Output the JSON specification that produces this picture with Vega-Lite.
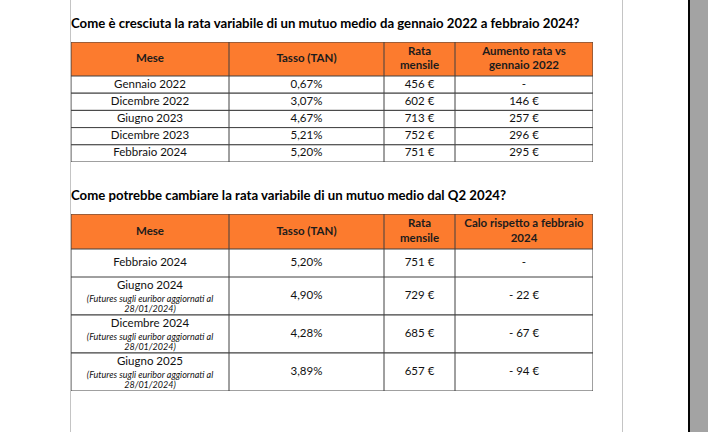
{
  "$schema": "https://vega.github.io/schema/vega-lite/v6.json",
  "padding": 0,
  "spacing": 0,
  "datasets": {
    "t1h": [{"a": "Mese", "b": "Tasso (TAN)", "c": "Rata\nmensile", "d": "Aumento rata vs\ngennaio 2022"}],
    "t1": [
      {"r": 1, "mese": "Gennaio 2022", "tasso": 0.0067, "rata": 456, "aumento": null},
      {"r": 2, "mese": "Dicembre 2022", "tasso": 0.0307, "rata": 602, "aumento": 146},
      {"r": 3, "mese": "Giugno 2023", "tasso": 0.0467, "rata": 713, "aumento": 257},
      {"r": 4, "mese": "Dicembre 2023", "tasso": 0.0521, "rata": 752, "aumento": 296},
      {"r": 5, "mese": "Febbraio 2024", "tasso": 0.052, "rata": 751, "aumento": 295}
    ],
    "t2h": [{"a": "Mese", "b": "Tasso (TAN)", "c": "Rata\nmensile", "d": "Calo rispetto a febbraio\n2024"}],
    "t2": [
      {"r": 1, "mese": "Febbraio 2024", "nota": "", "tasso": 0.052, "rata": 751, "calo": null},
      {"r": 2, "mese": "Giugno 2024", "nota": "(Futures sugli euribor aggiornati al\n28/01/2024)", "tasso": 0.049, "rata": 729, "calo": -22},
      {"r": 3, "mese": "Dicembre 2024", "nota": "(Futures sugli euribor aggiornati al\n28/01/2024)", "tasso": 0.0428, "rata": 685, "calo": -67},
      {"r": 4, "mese": "Giugno 2025", "nota": "(Futures sugli euribor aggiornati al\n28/01/2024)", "tasso": 0.0389, "rata": 657, "calo": -94}
    ]
  },
  "hconcat": [
    {"width": 70, "height": 432, "data": {"values": []}, "mark": "rect"},
    {"width": 1, "height": 432, "data": {"values": []}, "mark": "rect", "view": {"fill": "#c4c4c4", "stroke": null}},
    {
      "spacing": 0,
      "vconcat": [
        {"width": 522, "height": 16, "data": {"values": []}, "mark": "rect"},
        {
          "title": {"text": "Come è cresciuta la rata variabile di un mutuo medio da gennaio 2022 a febbraio 2024?", "offset": 11},
          "spacing": 0,
          "vconcat": [
            {
              "spacing": 0,
              "hconcat": [
                {"width": 158, "height": 34, "data": {"name": "t1h"}, "layer": [
                  {"mark": {"type": "rect", "fill": "#fc7b2e", "clip": true}, "encoding": {"x": {"value": 0}, "x2": {"value": "width"}, "y": {"value": 0}, "y2": {"value": "height"}}},
                  {"mark": {"type": "text", "fontWeight": "bold", "fontSize": 11.5, "lineHeight": 14.5, "color": "#1c1c1c"}, "encoding": {"text": {"field": "a"}}}
                ]},
                {"width": 155, "height": 34, "data": {"name": "t1h"}, "layer": [
                  {"mark": {"type": "rect", "fill": "#fc7b2e", "clip": true}, "encoding": {"x": {"value": 0}, "x2": {"value": "width"}, "y": {"value": 0}, "y2": {"value": "height"}}},
                  {"mark": {"type": "text", "fontWeight": "bold", "fontSize": 11.5, "lineHeight": 14.5, "color": "#1c1c1c"}, "encoding": {"text": {"field": "b"}}}
                ]},
                {"width": 71, "height": 34, "data": {"name": "t1h"}, "layer": [
                  {"mark": {"type": "rect", "fill": "#fc7b2e", "clip": true}, "encoding": {"x": {"value": 0}, "x2": {"value": "width"}, "y": {"value": 0}, "y2": {"value": "height"}}},
                  {"mark": {"type": "text", "fontWeight": "bold", "fontSize": 11.5, "lineHeight": 14.5, "dy": -7.25, "color": "#1c1c1c"}, "encoding": {"text": {"field": "c"}}}
                ]},
                {"width": 138, "height": 34, "data": {"name": "t1h"}, "layer": [
                  {"mark": {"type": "rect", "fill": "#fc7b2e", "clip": true}, "encoding": {"x": {"value": 0}, "x2": {"value": "width"}, "y": {"value": 0}, "y2": {"value": "height"}}},
                  {"mark": {"type": "text", "fontWeight": "bold", "fontSize": 11.5, "lineHeight": 14.5, "dy": -7.25, "color": "#1c1c1c"}, "encoding": {"text": {"field": "d"}}}
                ]}
              ]
            },
            {
              "spacing": 0,
              "hconcat": [
                {"width": 158, "height": 86, "data": {"name": "t1"},
                 "encoding": {"y": {"field": "r", "type": "ordinal", "axis": null, "scale": {"type": "band", "paddingInner": 0, "paddingOuter": 0}}},
                 "layer": [
                  {"mark": {"type": "rect", "fill": "white", "clip": true}, "encoding": {"x": {"value": 0}, "x2": {"value": "width"}}},
                  {"mark": {"type": "text"}, "encoding": {"text": {"field": "mese"}}}
                ]},
                {"width": 155, "height": 86, "data": {"name": "t1"},
                 "encoding": {"y": {"field": "r", "type": "ordinal", "axis": null, "scale": {"type": "band", "paddingInner": 0, "paddingOuter": 0}}},
                 "layer": [
                  {"mark": {"type": "rect", "fill": "white", "clip": true}, "encoding": {"x": {"value": 0}, "x2": {"value": "width"}}},
                  {"mark": {"type": "text"}, "encoding": {"text": {"field": "tasso", "type": "quantitative", "format": ".2%"}}}
                ]},
                {"width": 71, "height": 86, "data": {"name": "t1"},
                 "encoding": {"y": {"field": "r", "type": "ordinal", "axis": null, "scale": {"type": "band", "paddingInner": 0, "paddingOuter": 0}}},
                 "layer": [
                  {"mark": {"type": "rect", "fill": "white", "clip": true}, "encoding": {"x": {"value": 0}, "x2": {"value": "width"}}},
                  {"mark": {"type": "text"}, "encoding": {"text": {"field": "rata", "type": "quantitative", "format": "$d"}}}
                ]},
                {"width": 138, "height": 86, "data": {"name": "t1"},
                 "encoding": {"y": {"field": "r", "type": "ordinal", "axis": null, "scale": {"type": "band", "paddingInner": 0, "paddingOuter": 0}}},
                 "layer": [
                  {"mark": {"type": "rect", "fill": "white", "clip": true}, "encoding": {"x": {"value": 0}, "x2": {"value": "width"}}},
                  {"mark": {"type": "text"}, "encoding": {"text": {"condition": {"test": "datum.aumento === null", "value": "-"}, "field": "aumento", "type": "quantitative", "format": "$d"}}}
                ]}
              ]
            }
          ]
        },
        {"width": 522, "height": 26, "data": {"values": []}, "mark": "rect"},
        {
          "title": {"text": "Come potrebbe cambiare la rata variabile di un mutuo medio dal Q2 2024?", "offset": 11},
          "spacing": 0,
          "vconcat": [
            {
              "spacing": 0,
              "hconcat": [
                {"width": 158, "height": 35, "data": {"name": "t2h"}, "layer": [
                  {"mark": {"type": "rect", "fill": "#fc7b2e", "clip": true}, "encoding": {"x": {"value": 0}, "x2": {"value": "width"}, "y": {"value": 0}, "y2": {"value": "height"}}},
                  {"mark": {"type": "text", "fontWeight": "bold", "fontSize": 11.5, "lineHeight": 15, "color": "#1c1c1c"}, "encoding": {"text": {"field": "a"}}}
                ]},
                {"width": 155, "height": 35, "data": {"name": "t2h"}, "layer": [
                  {"mark": {"type": "rect", "fill": "#fc7b2e", "clip": true}, "encoding": {"x": {"value": 0}, "x2": {"value": "width"}, "y": {"value": 0}, "y2": {"value": "height"}}},
                  {"mark": {"type": "text", "fontWeight": "bold", "fontSize": 11.5, "lineHeight": 15, "color": "#1c1c1c"}, "encoding": {"text": {"field": "b"}}}
                ]},
                {"width": 71, "height": 35, "data": {"name": "t2h"}, "layer": [
                  {"mark": {"type": "rect", "fill": "#fc7b2e", "clip": true}, "encoding": {"x": {"value": 0}, "x2": {"value": "width"}, "y": {"value": 0}, "y2": {"value": "height"}}},
                  {"mark": {"type": "text", "fontWeight": "bold", "fontSize": 11.5, "lineHeight": 15, "dy": -7.5, "color": "#1c1c1c"}, "encoding": {"text": {"field": "c"}}}
                ]},
                {"width": 138, "height": 35, "data": {"name": "t2h"}, "layer": [
                  {"mark": {"type": "rect", "fill": "#fc7b2e", "clip": true}, "encoding": {"x": {"value": 0}, "x2": {"value": "width"}, "y": {"value": 0}, "y2": {"value": "height"}}},
                  {"mark": {"type": "text", "fontWeight": "bold", "fontSize": 11.5, "lineHeight": 15, "dy": -7.5, "color": "#1c1c1c"}, "encoding": {"text": {"field": "d"}}}
                ]}
              ]
            },
            {
              "spacing": 0,
              "hconcat": [
                {"width": 158, "height": 28, "data": {"name": "t2"}, "transform": [{"filter": "datum.r == 1"}],
                 "encoding": {"y": {"field": "r", "type": "ordinal", "axis": null, "scale": {"type": "band", "paddingInner": 0, "paddingOuter": 0}}},
                 "layer": [
                  {"mark": {"type": "rect", "fill": "white", "clip": true}, "encoding": {"x": {"value": 0}, "x2": {"value": "width"}}},
                  {"mark": {"type": "text"}, "encoding": {"text": {"field": "mese"}}}
                ]},
                {"width": 155, "height": 28, "data": {"name": "t2"}, "transform": [{"filter": "datum.r == 1"}],
                 "encoding": {"y": {"field": "r", "type": "ordinal", "axis": null, "scale": {"type": "band", "paddingInner": 0, "paddingOuter": 0}}},
                 "layer": [
                  {"mark": {"type": "rect", "fill": "white", "clip": true}, "encoding": {"x": {"value": 0}, "x2": {"value": "width"}}},
                  {"mark": {"type": "text"}, "encoding": {"text": {"field": "tasso", "type": "quantitative", "format": ".2%"}}}
                ]},
                {"width": 71, "height": 28, "data": {"name": "t2"}, "transform": [{"filter": "datum.r == 1"}],
                 "encoding": {"y": {"field": "r", "type": "ordinal", "axis": null, "scale": {"type": "band", "paddingInner": 0, "paddingOuter": 0}}},
                 "layer": [
                  {"mark": {"type": "rect", "fill": "white", "clip": true}, "encoding": {"x": {"value": 0}, "x2": {"value": "width"}}},
                  {"mark": {"type": "text"}, "encoding": {"text": {"field": "rata", "type": "quantitative", "format": "$d"}}}
                ]},
                {"width": 138, "height": 28, "data": {"name": "t2"}, "transform": [{"filter": "datum.r == 1"}],
                 "encoding": {"y": {"field": "r", "type": "ordinal", "axis": null, "scale": {"type": "band", "paddingInner": 0, "paddingOuter": 0}}},
                 "layer": [
                  {"mark": {"type": "rect", "fill": "white", "clip": true}, "encoding": {"x": {"value": 0}, "x2": {"value": "width"}}},
                  {"mark": {"type": "text"}, "encoding": {"text": {"condition": {"test": "datum.calo === null", "value": "-"}, "field": "calo", "type": "quantitative", "format": "$d"}}}
                ]}
              ]
            },
            {
              "spacing": 0,
              "hconcat": [
                {"width": 158, "height": 114, "data": {"name": "t2"}, "transform": [{"filter": "datum.r > 1"}],
                 "encoding": {"y": {"field": "r", "type": "ordinal", "axis": null, "scale": {"type": "band", "paddingInner": 0, "paddingOuter": 0}}},
                 "layer": [
                  {"mark": {"type": "rect", "fill": "white", "clip": true}, "encoding": {"x": {"value": 0}, "x2": {"value": "width"}}},
                  {"mark": {"type": "text", "dy": -10.5}, "encoding": {"text": {"field": "mese"}}},
                  {"mark": {"type": "text", "fontSize": 9, "fontStyle": "italic", "lineHeight": 10, "dy": 2.5}, "encoding": {"text": {"field": "nota"}}}
                ]},
                {"width": 155, "height": 114, "data": {"name": "t2"}, "transform": [{"filter": "datum.r > 1"}],
                 "encoding": {"y": {"field": "r", "type": "ordinal", "axis": null, "scale": {"type": "band", "paddingInner": 0, "paddingOuter": 0}}},
                 "layer": [
                  {"mark": {"type": "rect", "fill": "white", "clip": true}, "encoding": {"x": {"value": 0}, "x2": {"value": "width"}}},
                  {"mark": {"type": "text"}, "encoding": {"text": {"field": "tasso", "type": "quantitative", "format": ".2%"}}}
                ]},
                {"width": 71, "height": 114, "data": {"name": "t2"}, "transform": [{"filter": "datum.r > 1"}],
                 "encoding": {"y": {"field": "r", "type": "ordinal", "axis": null, "scale": {"type": "band", "paddingInner": 0, "paddingOuter": 0}}},
                 "layer": [
                  {"mark": {"type": "rect", "fill": "white", "clip": true}, "encoding": {"x": {"value": 0}, "x2": {"value": "width"}}},
                  {"mark": {"type": "text"}, "encoding": {"text": {"field": "rata", "type": "quantitative", "format": "$d"}}}
                ]},
                {"width": 138, "height": 114, "data": {"name": "t2"}, "transform": [{"filter": "datum.r > 1"}],
                 "encoding": {"y": {"field": "r", "type": "ordinal", "axis": null, "scale": {"type": "band", "paddingInner": 0, "paddingOuter": 0}}},
                 "layer": [
                  {"mark": {"type": "rect", "fill": "white", "clip": true}, "encoding": {"x": {"value": 0}, "x2": {"value": "width"}}},
                  {"mark": {"type": "text"}, "encoding": {"text": {"condition": {"test": "datum.calo === null", "value": "-"}, "field": "calo", "type": "quantitative", "format": "$d"}}}
                ]}
              ]
            }
          ]
        }
      ]
    },
    {"width": 29, "height": 432, "data": {"values": []}, "mark": "rect"},
    {"width": 1, "height": 432, "data": {"values": []}, "mark": "rect", "view": {"fill": "#c4c4c4", "stroke": null}},
    {"width": 65, "height": 432, "data": {"values": []}, "mark": "rect"},
    {"width": 2, "height": 432, "data": {"values": []}, "mark": "rect", "view": {"fill": "#050505", "stroke": null}},
    {"width": 18, "height": 432, "data": {"values": []}, "mark": "rect", "view": {"fill": "#a3a3a3", "stroke": null}}
  ],
  "config": {
    "view": {"stroke": null},
    "concat": {"spacing": 0},
    "font": "Lato",
    "text": {"font": "Lato", "fontSize": 11.5, "color": "#111111", "lineBreak": "\n"},
    "rect": {"stroke": "#404040", "strokeWidth": 1},
    "title": {"font": "Lato", "fontSize": 13.2, "fontWeight": "bold", "anchor": "start", "color": "#000000", "offset": 12},
    "locale": {"number": {"decimal": ",", "thousands": ".", "grouping": [3], "currency": ["", " €"], "minus": "- "}}
  }
}
